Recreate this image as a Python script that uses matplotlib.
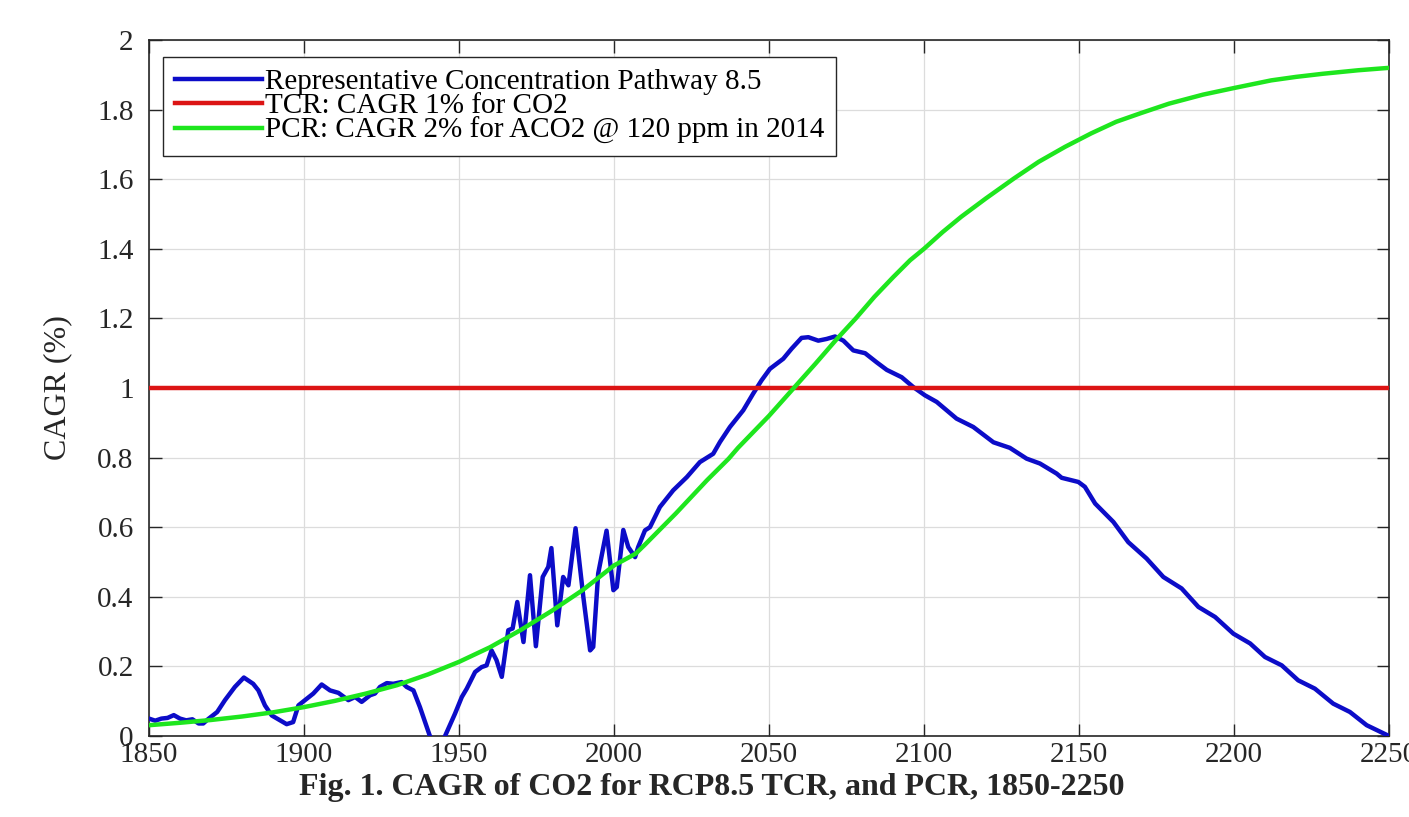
import matplotlib
matplotlib.use("Agg")
import matplotlib.pyplot as plt

plt.rcParams['font.family'] = ['Liberation Serif', 'DejaVu Serif']

# ---- data ----
rcp_years = [1850, 1852, 1854, 1856, 1858, 1860, 1862, 1864, 1866, 1867.5, 1869, 1872,
             1874.5, 1877.7, 1880.6, 1883.6, 1885.3, 1887.4, 1889.6, 1892.3, 1894.4,
             1896.5, 1898.2, 1900.9, 1903, 1905.7, 1908.4, 1911.1, 1914.3, 1916.5,
             1918.6, 1921.3, 1922.9, 1924.5, 1926.7, 1928.8, 1931.5, 1933.1, 1935.3,
             1937.4, 1940.6, 1943, 1945.5, 1948.7, 1950.9, 1952.5, 1955.2, 1957.3,
             1958.9, 1960.5, 1962.1, 1963.8, 1965.9, 1967.3, 1968.8, 1970.8, 1972.9,
             1974.8, 1977, 1978.8, 1979.8, 1981.7, 1983.6, 1985.3, 1987.6, 1990.1,
             1992.3, 1993.3, 1994.9, 1997.6, 1999.8, 2000.9, 2003, 2004.6, 2006.8,
             2007.8, 2010, 2011.6, 2014.8, 2019.1, 2023.5, 2027.7, 2032, 2034.2,
             2037.4, 2041.7, 2044.9, 2047.6, 2050.3, 2054.6, 2057.3, 2060.5, 2062.7,
             2065.9, 2068.6, 2071.3, 2074, 2077.2, 2081, 2084.7, 2088, 2092.8, 2096.5,
             2100.3, 2104.1, 2110.5, 2115.9, 2122.4, 2127.7, 2133.1, 2137.4, 2142.8,
             2144.4, 2149.8, 2151.9, 2155.2, 2161.1, 2165.9, 2171.8, 2177.2, 2183.1,
             2188.5, 2193.9, 2199.8, 2205.2, 2210, 2215.4, 2220.7, 2226.1, 2232,
             2237.4, 2242.8, 2250]
rcp_cagr = [0.050, 0.044, 0.050, 0.052, 0.060, 0.050, 0.045, 0.048, 0.036, 0.036, 0.048,
            0.069, 0.103, 0.141, 0.168, 0.150, 0.131, 0.088, 0.059, 0.045, 0.034, 0.040,
            0.088, 0.107, 0.122, 0.148, 0.131, 0.124, 0.103, 0.112, 0.098, 0.117, 0.122,
            0.141, 0.152, 0.150, 0.155, 0.141, 0.131, 0.083, 0.000, -0.040, 0.000, 0.064,
            0.112, 0.136, 0.184, 0.198, 0.203, 0.246, 0.218, 0.170, 0.304, 0.309, 0.385,
            0.270, 0.462, 0.258, 0.457, 0.486, 0.540, 0.318, 0.457, 0.433, 0.597, 0.400,
            0.246, 0.256, 0.467, 0.590, 0.419, 0.428, 0.592, 0.543, 0.514, 0.543, 0.591,
            0.600, 0.658, 0.706, 0.744, 0.787, 0.811, 0.845, 0.888, 0.936, 0.984, 1.022,
            1.055, 1.084, 1.113, 1.144, 1.146, 1.136, 1.141, 1.148, 1.136, 1.108, 1.100,
            1.074, 1.052, 1.031, 1.003, 0.979, 0.960, 0.912, 0.888, 0.844, 0.828, 0.797,
            0.783, 0.754, 0.742, 0.730, 0.716, 0.668, 0.615, 0.557, 0.510, 0.457, 0.424,
            0.371, 0.342, 0.294, 0.266, 0.227, 0.203, 0.160, 0.136, 0.093, 0.069, 0.031,
            0.000]

tcr_years = [1850, 2250]
tcr_cagr = [1.0, 1.0]

pcr_years = [1850, 1860, 1870, 1880, 1890, 1900, 1910, 1920, 1930, 1940, 1950, 1960,
             1970, 1980, 1990, 2000, 2007, 2010, 2020, 2030, 2037, 2040, 2050, 2058,
             2065, 2072, 2078, 2084, 2090, 2095.5, 2100, 2106, 2112, 2120, 2129,
             2137, 2145.5, 2154, 2162, 2170, 2179, 2190, 2200, 2206, 2212, 2220,
             2228.7, 2240, 2250]
pcr_cagr = [0.031, 0.038, 0.046, 0.056, 0.068, 0.083, 0.101, 0.122, 0.146, 0.177,
            0.213, 0.255, 0.305, 0.360, 0.420, 0.490, 0.524, 0.550, 0.640, 0.735,
            0.797, 0.828, 0.920, 1.000, 1.070, 1.142, 1.200, 1.262, 1.318, 1.367,
            1.400, 1.448, 1.492, 1.545, 1.602, 1.650, 1.693, 1.732, 1.765, 1.790,
            1.817, 1.843, 1.862, 1.873, 1.884, 1.894, 1.903, 1.913, 1.920]

labels = ["Representative Concentration Pathway 8.5",
          "TCR: CAGR 1% for CO2",
          "PCR: CAGR 2% for ACO2 @ 120 ppm in 2014"]
x_ticks = list(range(1850, 2251, 50))
y_ticks = [0, 0.2, 0.4, 0.6, 0.8, 1, 1.2, 1.4, 1.6, 1.8, 2]
y_tick_labels = ["0", "0.2", "0.4", "0.6", "0.8", "1", "1.2", "1.4", "1.6", "1.8", "2"]
title = "Fig. 1. CAGR of CO2 for RCP8.5 TCR, and PCR, 1850-2250"
ylabel = "CAGR (%)"

# ---- figure ----
fig = plt.figure(figsize=(14.09, 8.17), dpi=100)
ax = fig.add_axes([149/1409, 1 - 736/817, (1389-149)/1409, (736-40)/817])

ax.plot(rcp_years, rcp_cagr, color='#0c0cc8', lw=3.2, label=labels[0], zorder=3)
ax.plot(tcr_years, tcr_cagr, color='#dc1414', lw=3.2, label=labels[1], zorder=3)
ax.plot(pcr_years, pcr_cagr, color='#1ee61e', lw=3.2, label=labels[2], zorder=4)

ax.set_xlim(1850, 2250)
ax.set_ylim(0, 2)
ax.set_xticks(x_ticks)
ax.set_xticklabels([str(t) for t in x_ticks])
ax.set_yticks(y_ticks)
ax.set_yticklabels(y_tick_labels)
ax.grid(True, color='#dcdcdc', lw=0.9)
ax.set_axisbelow(True)
ax.tick_params(direction='in', length=9, width=1.0, color='#262626',
               top=True, right=True, labelsize=21, colors='#262626')
ax.tick_params(axis='y', pad=11)
ax.tick_params(axis='x', pad=4)
for s in ax.spines.values():
    s.set_color('#262626')
    s.set_linewidth(1.2)

ax.set_ylabel(ylabel, fontsize=23, color='#262626', labelpad=18)

leg = ax.legend(loc='upper left', bbox_to_anchor=((163-149)/1240, 1 - (57-40)/696),
                bbox_transform=ax.transAxes, fontsize=21, frameon=True, fancybox=False,
                edgecolor='#262626', framealpha=1, borderpad=0.4, labelspacing=-0.08,
                handlelength=3.0, handletextpad=0.1, borderaxespad=0)
leg.get_frame().set_linewidth(1.0)

fig.text(712/1409, 1 - 787/817, title, ha='center', va='center', fontsize=23,
         fontweight='bold', color='#262626')

fig.savefig("out.png", dpi=100)
